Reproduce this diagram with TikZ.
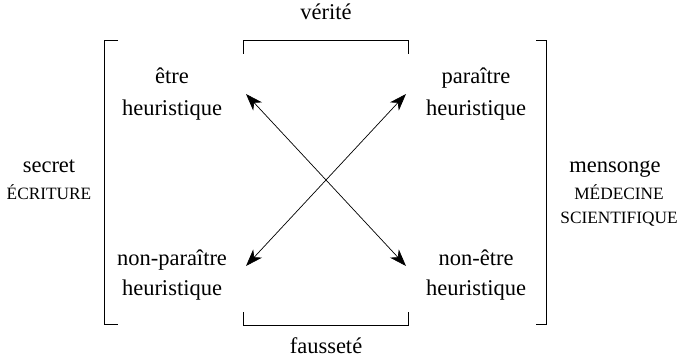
\documentclass[tikz,border=0pt]{standalone}
\usepackage{fontspec}
\setmainfont{Liberation Serif}
\usetikzlibrary{arrows.meta}
\begin{document}
\begin{tikzpicture}[x=1pt,y=-1pt,
  lbl/.style={inner sep=0pt,anchor=base,font=\fontsize{22.5}{27}\selectfont},
  sclbl/.style={inner sep=0pt,anchor=base,font=\fontsize{17.3}{20}\selectfont},
  brk/.style={line width=0.8pt},
  dbl/.style={line width=0.7pt,{Stealth[length=17pt,width=12pt,inset=5pt]}-{Stealth[length=17pt,width=12pt,inset=5pt]}}]
\useasboundingbox (0,0) rectangle (682,358);
% corner texts
\node[lbl] (a1) at (172,84) {être};
\node[lbl] (a2) at (172,116) {heuristique};
\node[lbl] (b1) at (476,84) {paraître};
\node[lbl] (b2) at (476,116) {heuristique};
\node[lbl] (c1) at (172,265) {non-paraître};
\node[lbl] (c2) at (172,295) {heuristique};
\node[lbl] (d1) at (476,265) {non-être};
\node[lbl] (d2) at (476,295) {heuristique};
% side labels
\node[lbl] (s1) at (49,173) {secret};
\node[sclbl] (s2) at (49,200) {ÉCRITURE};
\node[lbl] (m1) at (615,172) {mensonge};
\node[sclbl] (m2) at (619,199) {MÉDECINE};
\node[sclbl] (m3) at (619,223) {SCIENTIFIQUE};
\node[lbl] (v) at (326,20) {vérité};
\node[lbl] (f) at (326,353) {fausseté};
% brackets
\coordinate (lt) at (104,40); \coordinate (lb) at (104,324);
\coordinate (rt) at (546,40); \coordinate (rb) at (546,324);
\draw[brk] (118,40) -- (lt) -- (lb) -- (118,324);
\draw[brk] (536,40) -- (rt) -- (rb) -- (536,324);
\coordinate (tl) at (243,40); \coordinate (tr) at (408,40);
\coordinate (bl) at (243,325); \coordinate (br) at (408,325);
\draw[brk] (243,54) -- (tl) -- (tr) -- (408,54);
\draw[brk] (243,312) -- (bl) -- (br) -- (408,312);
% arrows
\coordinate (p1) at (246,94); \coordinate (p2) at (406,266);
\coordinate (q1) at (406,94); \coordinate (q2) at (246,266);
\draw[dbl] (p1) -- (p2);
\draw[dbl] (q1) -- (q2);
\end{tikzpicture}
\end{document}
